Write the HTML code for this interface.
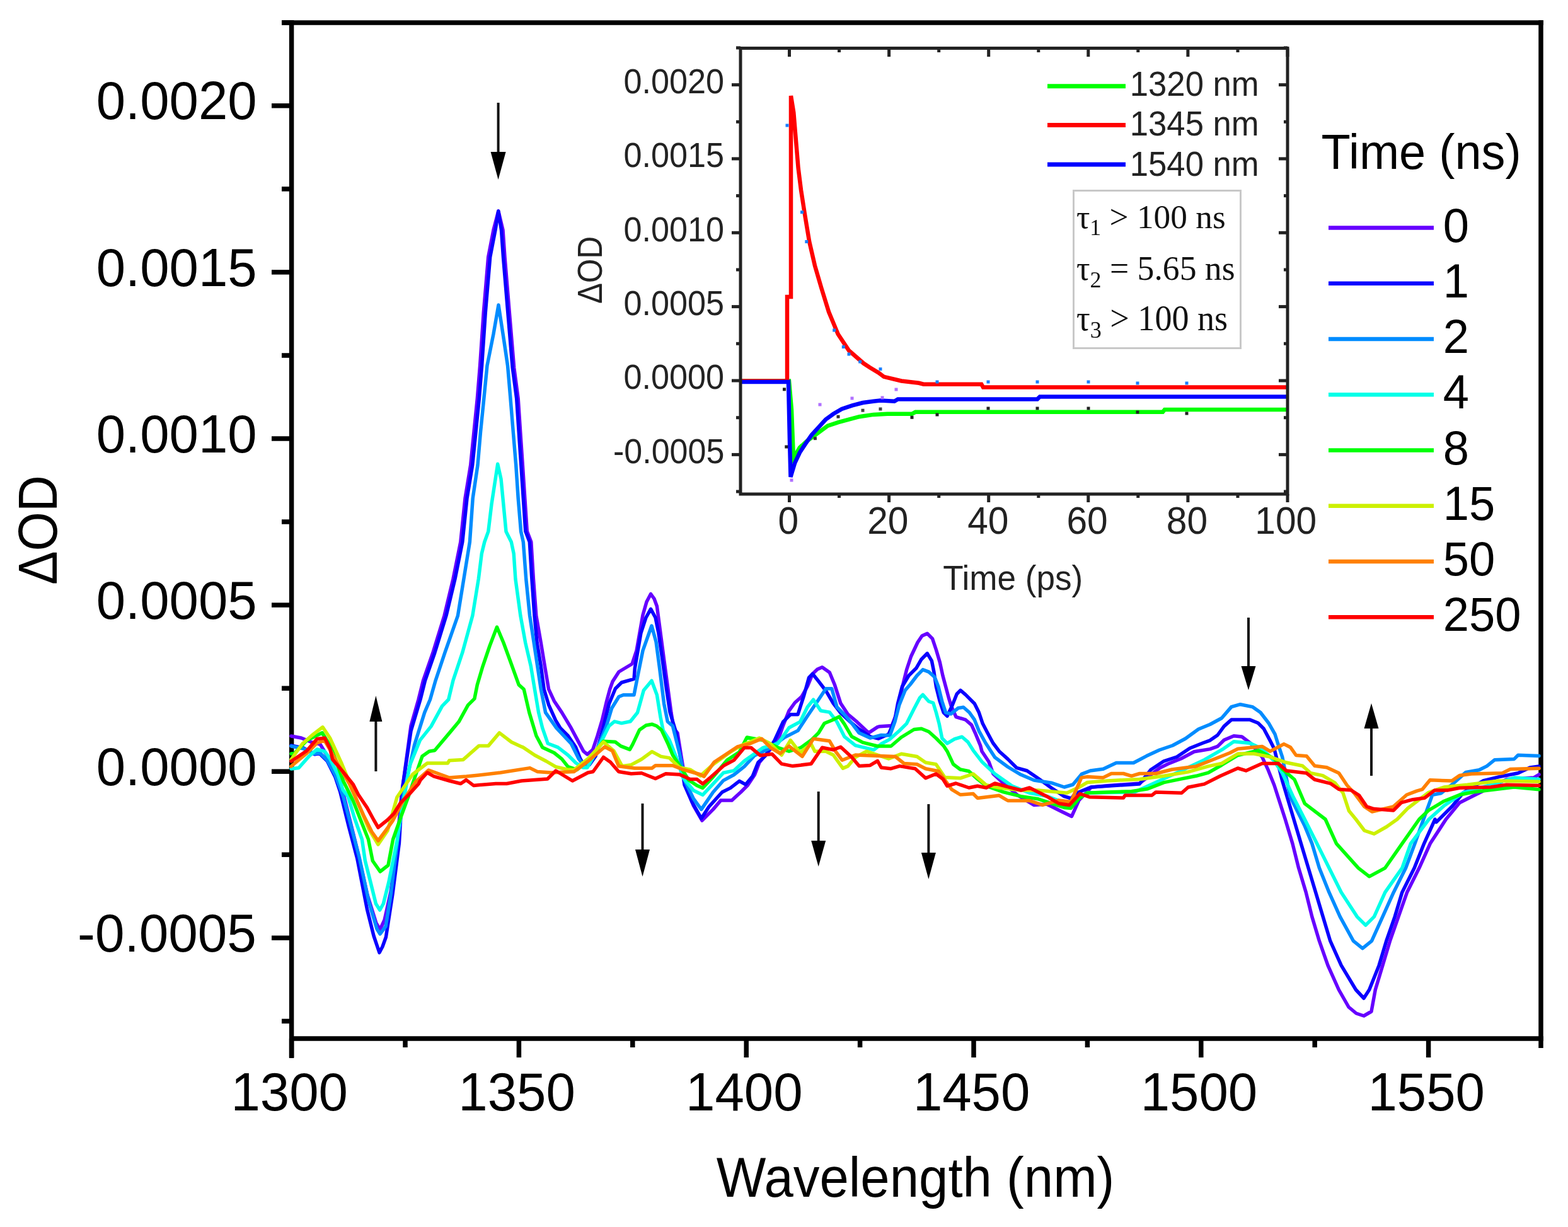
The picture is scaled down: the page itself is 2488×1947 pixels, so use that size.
<!DOCTYPE html>
<html><head><meta charset="utf-8"><title>Transient absorption spectra</title>
<style>html,body{margin:0;padding:0;background:#fff;overflow:hidden}svg{display:block}</style></head>
<body><svg xmlns="http://www.w3.org/2000/svg" width="2488" height="1947" viewBox="0 0 2488 1947">
<rect width="2488" height="1947" fill="#fff"/>
<g stroke="#000" stroke-width="7.5" fill="none">
<line x1="462.6" y1="32.0" x2="462.6" y2="1679"/>
<line x1="447" y1="36.0" x2="2449.0" y2="36.0"/>
<line x1="2445.0" y1="32.0" x2="2445.0" y2="1663"/>
<line x1="462.6" y1="1648.0" x2="2449.0" y2="1648.0"/>
<line x1="447" y1="1620.4" x2="462.6" y2="1620.4"/>
<line x1="431" y1="1488.3" x2="462.6" y2="1488.3"/>
<line x1="447" y1="1356.2" x2="462.6" y2="1356.2"/>
<line x1="431" y1="1224.2" x2="462.6" y2="1224.2"/>
<line x1="447" y1="1092.2" x2="462.6" y2="1092.2"/>
<line x1="431" y1="960.1" x2="462.6" y2="960.1"/>
<line x1="447" y1="828.0" x2="462.6" y2="828.0"/>
<line x1="431" y1="696.0" x2="462.6" y2="696.0"/>
<line x1="447" y1="564.0" x2="462.6" y2="564.0"/>
<line x1="431" y1="431.9" x2="462.6" y2="431.9"/>
<line x1="447" y1="299.9" x2="462.6" y2="299.9"/>
<line x1="431" y1="167.8" x2="462.6" y2="167.8"/>
<line x1="447" y1="35.8" x2="462.6" y2="35.8"/>
<line x1="462.6" y1="1648.0" x2="462.6" y2="1678"/>
<line x1="643.0" y1="1648.0" x2="643.0" y2="1662"/>
<line x1="823.4" y1="1648.0" x2="823.4" y2="1678"/>
<line x1="1003.8" y1="1648.0" x2="1003.8" y2="1662"/>
<line x1="1184.2" y1="1648.0" x2="1184.2" y2="1678"/>
<line x1="1364.6" y1="1648.0" x2="1364.6" y2="1662"/>
<line x1="1545.0" y1="1648.0" x2="1545.0" y2="1678"/>
<line x1="1725.4" y1="1648.0" x2="1725.4" y2="1662"/>
<line x1="1905.8" y1="1648.0" x2="1905.8" y2="1678"/>
<line x1="2086.2" y1="1648.0" x2="2086.2" y2="1662"/>
<line x1="2266.6" y1="1648.0" x2="2266.6" y2="1678"/>
</g>
<text transform="translate(152.66,189.44) scale(0.8339,0.8577)" font-family="'Liberation Sans', Arial, Helvetica, sans-serif" font-size="100" fill="#000">0.0020</text>
<text transform="translate(152.66,453.54) scale(0.8339,0.8577)" font-family="'Liberation Sans', Arial, Helvetica, sans-serif" font-size="100" fill="#000">0.0015</text>
<text transform="translate(152.66,717.64) scale(0.8339,0.8577)" font-family="'Liberation Sans', Arial, Helvetica, sans-serif" font-size="100" fill="#000">0.0010</text>
<text transform="translate(152.66,981.74) scale(0.8339,0.8577)" font-family="'Liberation Sans', Arial, Helvetica, sans-serif" font-size="100" fill="#000">0.0005</text>
<text transform="translate(152.66,1245.84) scale(0.8339,0.8577)" font-family="'Liberation Sans', Arial, Helvetica, sans-serif" font-size="100" fill="#000">0.0000</text>
<text transform="translate(123.05,1509.94) scale(0.8369,0.8577)" font-family="'Liberation Sans', Arial, Helvetica, sans-serif" font-size="100" fill="#000">-0.0005</text>
<text transform="translate(366.48,1762.24) scale(0.8338,0.8606)" font-family="'Liberation Sans', Arial, Helvetica, sans-serif" font-size="100" fill="#000">1300</text>
<text transform="translate(727.28,1762.24) scale(0.8338,0.8606)" font-family="'Liberation Sans', Arial, Helvetica, sans-serif" font-size="100" fill="#000">1350</text>
<text transform="translate(1088.08,1762.24) scale(0.8338,0.8606)" font-family="'Liberation Sans', Arial, Helvetica, sans-serif" font-size="100" fill="#000">1400</text>
<text transform="translate(1448.88,1762.24) scale(0.8338,0.8606)" font-family="'Liberation Sans', Arial, Helvetica, sans-serif" font-size="100" fill="#000">1450</text>
<text transform="translate(1809.68,1762.24) scale(0.8338,0.8606)" font-family="'Liberation Sans', Arial, Helvetica, sans-serif" font-size="100" fill="#000">1500</text>
<text transform="translate(2170.48,1762.24) scale(0.8338,0.8606)" font-family="'Liberation Sans', Arial, Helvetica, sans-serif" font-size="100" fill="#000">1550</text>
<text transform="translate(89.52,928.01) scale(0.8775,0.8024) rotate(-90)" font-family="'Liberation Sans', Arial, Helvetica, sans-serif" font-size="100" fill="#000">ΔOD</text>
<text transform="translate(1136.87,1899.16) scale(0.8335,0.8830)" font-family="'Liberation Sans', Arial, Helvetica, sans-serif" font-size="100" fill="#000">Wavelength (nm)</text>
<text transform="translate(2096.58,268.13) scale(0.7578,0.7702)" font-family="'Liberation Sans', Arial, Helvetica, sans-serif" font-size="100" fill="#000">Time (ns)</text>
<line x1="2108" y1="361.5" x2="2275" y2="361.5" stroke="#6600FF" stroke-width="6.5"/>
<text transform="translate(2289.79,383.62) scale(0.7418,0.7592)" font-family="'Liberation Sans', Arial, Helvetica, sans-serif" font-size="100" fill="#000">0</text>
<line x1="2108" y1="449.8" x2="2275" y2="449.8" stroke="#0A00FF" stroke-width="6.5"/>
<text transform="translate(2289.79,471.88) scale(0.7418,0.7592)" font-family="'Liberation Sans', Arial, Helvetica, sans-serif" font-size="100" fill="#000">1</text>
<line x1="2108" y1="538.0" x2="2275" y2="538.0" stroke="#008CFF" stroke-width="6.5"/>
<text transform="translate(2289.79,560.14) scale(0.7418,0.7592)" font-family="'Liberation Sans', Arial, Helvetica, sans-serif" font-size="100" fill="#000">2</text>
<line x1="2108" y1="626.3" x2="2275" y2="626.3" stroke="#00FFE8" stroke-width="6.5"/>
<text transform="translate(2289.79,648.40) scale(0.7418,0.7592)" font-family="'Liberation Sans', Arial, Helvetica, sans-serif" font-size="100" fill="#000">4</text>
<line x1="2108" y1="714.5" x2="2275" y2="714.5" stroke="#00FF08" stroke-width="6.5"/>
<text transform="translate(2289.79,736.66) scale(0.7418,0.7592)" font-family="'Liberation Sans', Arial, Helvetica, sans-serif" font-size="100" fill="#000">8</text>
<line x1="2108" y1="802.8" x2="2275" y2="802.8" stroke="#CCF000" stroke-width="6.5"/>
<text transform="translate(2289.79,824.92) scale(0.7418,0.7592)" font-family="'Liberation Sans', Arial, Helvetica, sans-serif" font-size="100" fill="#000">15</text>
<line x1="2108" y1="891.1" x2="2275" y2="891.1" stroke="#FF8000" stroke-width="6.5"/>
<text transform="translate(2289.79,913.18) scale(0.7418,0.7592)" font-family="'Liberation Sans', Arial, Helvetica, sans-serif" font-size="100" fill="#000">50</text>
<line x1="2108" y1="979.3" x2="2275" y2="979.3" stroke="#FF0000" stroke-width="6.5"/>
<text transform="translate(2289.79,1001.44) scale(0.7418,0.7592)" font-family="'Liberation Sans', Arial, Helvetica, sans-serif" font-size="100" fill="#000">250</text>
<g fill="none" stroke-width="5.5" stroke-linejoin="round" stroke-linecap="round">
<polyline stroke="#6600FF" points="462,1168 478,1171 495,1178 508,1181 519,1199 540,1240 566,1345 583,1420 597,1465 603,1475 610,1460 620,1415 630,1340 637,1262 652,1152 664,1110 671.5,1080 686.8,1036 705,977 719,918.6 730.8,860 738,790.7 746.7,738 752,685.4 757.3,632.7 761.6,580 767.3,495.7 774.7,408 783,365 790.8,335 798,365 801,408 808.3,495.7 815.7,583.5 822.2,632.7 825.7,685.4 829.3,738 832.8,790.7 836.3,843 842.8,860 846.4,918.6 850.8,977 858.3,1020 864.4,1056.9 870.6,1093.7 879.2,1112.2 891.5,1130.6 906.2,1155.2 916,1173.6 925.9,1192.1 932,1197 940.6,1189.6 948,1167.5 955.4,1142.9 962.7,1112.2 967.7,1093.7 972,1081.6 982,1066 1003,1053.5 1010,1032.4 1020,976 1026,955 1032.6,942.5 1038,950 1042.4,962 1048,1004.3 1053.6,1046.5 1059.3,1088.6 1065,1130.8 1069,1156 1075,1163 1081.7,1204.8 1089.4,1251 1100.4,1278.4 1113.9,1302 1131.5,1284.4 1143.6,1270.1 1161.1,1270.1 1175.4,1257 1186.4,1246 1197.4,1229.5 1205,1209.7 1216.8,1195.7 1234.4,1174.6 1242.6,1151.2 1252,1127.8 1261.3,1115 1271.9,1105.6 1281.2,1089.2 1289.4,1069.3 1297,1062 1304.6,1058.7 1316.3,1067 1324.5,1086.8 1333.9,1116.1 1345.6,1133.7 1359.7,1145.4 1378.4,1162.9 1392.4,1153.6 1395.2,1152.8 1415.1,1151.6 1423.3,1130.5 1429.2,1101.3 1433.9,1081.3 1438.6,1062.6 1445.6,1041.5 1456.1,1019.3 1463,1009 1471.3,1005.2 1479.5,1013.4 1485.4,1031 1491.3,1050.9 1495.9,1072 1500.6,1089.5 1505.3,1107.1 1508.8,1118.8 1517,1137.6 1532.2,1142.2 1541.6,1150.4 1547.5,1163.3 1555.7,1183.2 1558,1192.2 1569,1208.7 1576,1228 1592.4,1243 1615,1262 1640.5,1277.4 1661,1276 1685,1288 1700.5,1295.4 1712,1269.8 1731.3,1249.3 1757,1246.7 1808.3,1242.9 1840.3,1218.5 1853.6,1212 1874.2,1203.7 1894.8,1192.7 1920,1188.6 1932,1184.4 1942.3,1174.2 1957.7,1167.7 1970.5,1169 1985,1180 2002.6,1201.1 2011.6,1220.3 2021.9,1246 2039.3,1300 2050.9,1338.6 2060.6,1377.3 2072.2,1415.9 2081.8,1454.6 2093.4,1493.2 2107,1531.9 2124.3,1570.5 2140,1598 2152,1608 2164,1612 2176,1605 2182.3,1570.5 2193.9,1531.9 2205.5,1493.2 2219,1454.6 2232.6,1415.9 2251.9,1377.3 2269.3,1338.6 2294.4,1300 2316,1273.7 2340.8,1261.3 2365.5,1249 2390.3,1236.6 2433.6,1234.1 2442,1229"/>
<polyline stroke="#0A00FF" points="462,1183 482,1187 499,1197 507,1195.6 519.4,1207.9 531.7,1232.5 539.9,1257 553,1310 566.7,1362 582.5,1443 593,1485 602,1511.6 607,1502 612.4,1487 623,1418.6 633.4,1337.8 638.7,1250 652,1160 667,1110 674.5,1080 689.8,1036 708,977 722,918.6 733.8,860 741,790.7 749.7,738 755,685.4 760.3,632.7 764.6,580 770.3,495.7 777.7,408 786,365 790.8,335 795.5,365 798.5,408 805.8,495.7 813.2,583.5 819.7,632.7 823.2,685.4 826.8,738 830.3,790.7 833.8,843 840.3,860 843.9,918.6 848,977 852.1,1020 858.3,1056.9 863.2,1093.7 870.6,1118.3 881.6,1142.9 889,1155.2 901.3,1167.5 913.6,1185.9 921,1204.4 926,1213 935,1214 945,1200 958,1151.8 966.5,1116.7 976.4,1092.8 986.2,1083 1006,1077.4 1007.3,1060.5 1017,1004.3 1025,980 1032.6,966.4 1040,980 1045,1005 1051,1046 1057,1090 1063,1130 1073,1163 1080.6,1207 1086,1245.4 1098.2,1273 1112.8,1298.7 1125,1280 1145.8,1257 1159,1250.4 1173.2,1239.4 1183.1,1244.9 1194.1,1231.7 1203,1209.7 1214,1199.8 1229,1175 1242.6,1145.4 1254.3,1133.7 1266,1133.7 1275.4,1104.4 1283.6,1075.1 1289.4,1069.3 1298.8,1081 1310.5,1096.2 1322.2,1116.1 1333.9,1131.3 1349.1,1145.4 1363.2,1157 1380.7,1168.8 1394,1172 1410,1165 1419.8,1142.2 1424.5,1116.5 1431.5,1089.5 1442,1072 1453.8,1060.3 1462,1046.2 1471.3,1036.8 1478.4,1048.6 1481.9,1066.1 1485.4,1089.5 1491.3,1113 1497.1,1130.5 1503,1136.4 1511.2,1118.8 1518.2,1101.3 1524,1095.4 1532.2,1102.4 1546.3,1116.5 1553.3,1130.5 1559.2,1148.1 1566.2,1161.5 1575.6,1179 1585.5,1192.2 1599.3,1204.6 1613,1218.3 1629.6,1223 1647.5,1235.3 1668,1250 1688.6,1263.7 1700,1267 1705.7,1259.5 1731,1249 1808,1244 1826,1221.5 1846.7,1207.8 1867.4,1201 1888,1187.2 1908.6,1179 1920,1174.8 1932,1166.5 1942.3,1152.4 1953.9,1142.1 1983.4,1142.1 1996.2,1147.2 2005.2,1156.2 2015.4,1175.4 2021.9,1188.3 2035,1240 2052.9,1300 2064.4,1338.6 2076,1377.3 2087.6,1415.9 2099.2,1454.6 2110.8,1493.2 2128.2,1531.9 2151.4,1570.5 2164,1584 2172.7,1570.5 2188.1,1531.9 2199.7,1493.2 2213.2,1454.6 2224.8,1415.9 2244.2,1377.3 2259.6,1338.6 2277,1300 2279,1304.6 2303.7,1279.9 2322.2,1257.6 2353.2,1239 2377.9,1232.9 2408.8,1226.7 2427.4,1218 2442,1216"/>
<polyline stroke="#008CFF" points="462,1184 482,1188 499,1196 507,1194 519,1206 532,1230 545,1265 570,1360 585,1430 598,1474 603,1482 612,1470 620,1420 630,1340 640,1262 657.6,1182 673.7,1130.6 682.5,1110 691.2,1079.6 705.9,1035.7 726.4,977.1 735.9,918.6 745.4,860 750.2,790.7 758,738 762.5,685.4 767.8,632.7 773,580 783,530 791,484 799.6,540 805.5,580 810,632.7 814.3,685.4 818.7,738 822.2,790.7 826.6,843.4 830.3,860 834.7,918.6 840.6,977.1 847.2,1020 858.3,1093.7 865.6,1130.6 882.9,1155.2 906.2,1179.8 918.5,1204.4 926,1214 935,1212 945,1195 962.3,1151.8 970.7,1123.7 982,1105.5 989,1102.7 1006,1102.7 1011.5,1074.6 1020,1032.4 1034,993 1041,1018.4 1046.6,1060.5 1053.6,1116.7 1059.3,1145 1067.4,1152 1078.4,1196 1087.2,1240 1100.4,1267.4 1112.8,1284.4 1131.5,1257 1148,1238.3 1164.4,1229.5 1181,1216.3 1197.4,1198.7 1220,1188 1245,1170 1266,1159.4 1282,1135 1298.8,1110.2 1310.5,1092.7 1319.8,1092.7 1328,1122 1339.8,1133.7 1351.5,1147.7 1363.2,1163 1380.7,1171.1 1398.3,1166.4 1412,1167 1420,1145 1426.8,1118.8 1436.2,1095.4 1444.4,1086 1455,1072 1464.3,1062.6 1473.7,1066.1 1483,1074.3 1488.9,1089.5 1494.8,1113 1500.6,1130.5 1508.8,1132.9 1520.5,1123.5 1528.7,1122.3 1538.1,1130.5 1546.3,1142.2 1553.3,1159.8 1563.9,1179 1578.6,1201.8 1599.3,1217 1620,1229.3 1640.6,1238 1668,1242.2 1688.7,1249 1702.4,1245 1716.2,1228.4 1730,1223 1750.5,1220.2 1771.2,1210.5 1798.6,1210.5 1819.3,1199.6 1839.9,1190 1860.5,1183 1881,1172 1901.7,1157 1920,1149.5 1938.5,1139.5 1953.9,1121.6 1968,1117.7 1987.2,1121.6 2000,1130.5 2012.9,1147.2 2023.1,1165.2 2028.3,1181.9 2034.7,1201.1 2046.8,1263.4 2070,1310 2081.8,1338.6 2093.4,1377.3 2108.9,1415.9 2126.3,1454.6 2147.5,1493.2 2162,1504.8 2176.5,1493.2 2193.9,1454.6 2211.3,1415.9 2230.6,1377.3 2245,1338.6 2257,1305 2272.8,1261.3 2286.4,1258.8 2303.7,1245.2 2326,1225.4 2347,1221.7 2359.3,1215.6 2371.7,1205.7 2402.6,1204.4 2408.8,1198.2 2442,1199.5"/>
<polyline stroke="#00FFE8" points="462,1220 474,1218.5 490.7,1199.7 503,1189 515.3,1192.3 523.5,1203.8 535.8,1228.4 544,1253 552.3,1264 562.5,1298 574.4,1332 579.4,1366 588,1400 596.4,1434 602.7,1444 608.3,1434 616.8,1400 623.6,1366 630.4,1332 633.4,1311.5 650,1215 666.4,1174.6 684,1152.6 701.6,1120.4 711.7,1110 719,1079.6 733.7,1035.7 749.8,977.1 759.3,918.6 764.3,878.5 768.8,860 774.8,843.4 780,800 789.7,736.3 795,760 803,843.4 811.3,860 815.2,878.5 817.9,918.6 825.9,977.1 833.7,1020 842.3,1056.9 848.4,1093.7 854.6,1130.6 860.7,1155.2 869.3,1179.8 885.3,1185.9 901.3,1198.2 913.6,1210.5 925,1218 932,1218 945,1195 966.5,1151.8 975,1144.8 986.2,1147.6 1000.3,1144.8 1011.5,1130.8 1021.3,1095.6 1034,1080.2 1042.4,1102.7 1048,1137.8 1052.2,1158.9 1062,1174 1073,1201.5 1084,1234.4 1100.4,1254.2 1115,1261.4 1131.5,1243.8 1148,1226.2 1164.4,1222.9 1181,1207.5 1195.2,1197.6 1211,1186.3 1234.4,1180 1252,1154.7 1269.5,1145.4 1281.2,1122 1290.6,1110.2 1302.3,1127.8 1316.3,1130.1 1328,1145.4 1339.8,1168.8 1357.3,1182.8 1386.6,1189.8 1398.3,1180.5 1411.7,1173.2 1426.8,1159.8 1438.6,1148.1 1450.3,1124.7 1459.6,1107.1 1464.3,1102.4 1473.7,1113 1480.7,1115.3 1485.4,1130.5 1490.1,1148.1 1494.8,1171.5 1503,1179.7 1514.7,1172.7 1526.4,1169.2 1535.8,1177.4 1544.3,1190.8 1558,1208.7 1578.6,1228 1606,1247.2 1633.6,1258.2 1660,1263 1690,1274 1705,1270 1725,1258 1800,1257 1834,1241.6 1870,1225 1911,1205.7 1941,1188.3 1957.7,1176.7 1983.4,1179.3 2002.6,1188.3 2021.9,1207.5 2034.7,1226.8 2051.5,1263.4 2070.2,1300 2089.6,1338.6 2108.9,1377.3 2128.2,1415.9 2153.3,1454.6 2166.9,1468.1 2180.4,1454.6 2197.8,1415.9 2224.8,1377.3 2238.4,1338.6 2267.3,1300 2291.3,1278.6 2322.2,1257.6 2353.2,1249 2402.6,1234.1 2442,1236.6"/>
<polyline stroke="#00FF08" points="462,1196 467,1195.6 486.6,1175 511.2,1162.8 525,1185 545,1240 560,1270 571,1298 584.5,1332 591.3,1366 603.2,1383 615.9,1373 623.6,1332 635.5,1298 648,1264 656,1240 670,1200 681,1192.2 689.8,1190.7 713.3,1162.9 728,1145.3 742.6,1118.9 752.9,1108.6 757.3,1086.6 766,1057.3 777,1025 788.5,995 799,1020 810,1050 823.2,1086.6 831.2,1093.7 839.8,1130.6 850.9,1167.5 860.7,1185.9 879.2,1194.5 891.5,1204.4 901.3,1216.7 915,1221 915.6,1221.5 935,1205 957.5,1176.2 976.2,1177.3 985,1183.9 999.3,1189.4 1003.9,1181.2 1014.6,1158.3 1025,1151 1034.4,1149.2 1042,1152 1049.6,1158.3 1060.3,1181.2 1067.4,1198.2 1080.6,1218 1092.7,1237.7 1105.9,1246.5 1115,1250.4 1131.5,1232.8 1153.4,1206.4 1173.2,1193.2 1185.2,1170 1211,1174.6 1234.4,1186.3 1252,1192.2 1270.7,1186.3 1287,1174.6 1298.8,1163 1308.1,1147.7 1319.8,1143 1331.6,1137.2 1339.8,1148.9 1351.5,1168.8 1369,1178.1 1392.4,1184 1413.7,1184 1430,1170 1450.3,1157.5 1462,1156.3 1473.7,1161 1485.4,1171.5 1497.1,1183.2 1503,1192.2 1512.7,1212.8 1523.7,1221 1537.4,1223.8 1551,1236.2 1565,1247.2 1592.4,1256.8 1620,1263.7 1647.4,1267.8 1688.6,1281.5 1699.2,1282.6 1712,1267.2 1725,1258.2 1757,1257 1795.4,1255.7 1821.1,1251.8 1846.8,1241.6 1872.4,1236.4 1898,1231.3 1917.3,1226.2 1938.5,1214 1964.1,1198.5 1996.2,1190.8 2021.9,1203.7 2034.7,1220.3 2054,1237 2070.3,1275.1 2103,1300 2120.5,1338.6 2155.3,1377.3 2172.7,1390.8 2197.8,1377.3 2224.8,1338.6 2251.9,1300 2266.6,1286 2291.3,1271.2 2316,1261.3 2340.8,1256.4 2371.7,1252.7 2402.6,1249 2442,1252.7"/>
<polyline stroke="#CCF000" points="462,1205 480,1180 494.8,1167 512,1153.8 523.5,1171 542.3,1212 560,1255 585,1315 600,1340 615,1318 630,1265 654.7,1228.8 678,1211 710.4,1211 713,1206.8 735,1205.4 760,1183.4 775,1183.4 792.4,1162.9 811.5,1177.5 827.6,1184.9 830,1185.9 848.4,1198.2 866.9,1208 881.6,1216.7 900,1221 911.2,1221.5 933,1204 957.5,1177.3 974,1191.6 987.2,1215.8 1001.5,1213.6 1018,1204.8 1034.4,1192.7 1048.7,1200.4 1062,1202.6 1078.4,1218 1095,1221.2 1111.4,1231.1 1131.5,1213 1159,1193.2 1175.4,1183.3 1205,1171.1 1222.7,1180.5 1240.2,1198 1254.3,1174.6 1269.5,1194.5 1287,1180.5 1292.9,1192.2 1310.5,1192.2 1322.2,1198 1337.4,1219.1 1345.6,1215.6 1357.3,1201.6 1374.9,1192.2 1410,1204 1430.2,1196.3 1455,1200.5 1468.7,1210 1485.2,1212.8 1499,1233.4 1523.7,1234.8 1544.3,1228 1565,1245.8 1585.5,1250 1620,1254 1647.4,1254 1692.8,1258.2 1712,1249.3 1725,1241.6 1757,1239 1808.3,1236.4 1846.8,1231.3 1885.2,1224.9 1917.3,1215.9 1938.5,1211.4 1964.1,1196 1989.8,1196 2015.4,1201.1 2041,1210 2066.8,1215.2 2079.6,1226.8 2098.8,1230.6 2118,1242 2130.9,1258 2140.5,1286.8 2151.4,1300 2165,1318 2180.4,1323.2 2200,1312 2217,1300 2234.2,1282.2 2266.6,1257.6 2291.3,1249 2328.4,1245.2 2377.9,1239 2442,1240.3"/>
<polyline stroke="#FF8000" points="462,1216 486,1196 503,1179 515,1175 524,1190 536,1212 555,1245 577,1294 590,1320 600,1334 612,1318 623,1302.7 640,1270 660,1240 680,1222 713,1234 740,1232 760,1230 794,1226 840.8,1218.6 852.5,1224.4 874.5,1226 911,1224.4 933,1208 959.7,1185 971.8,1191.6 981.7,1215.8 1007,1219 1034.4,1219 1040,1214.7 1067.4,1214.7 1084,1221.2 1111.4,1229 1117,1232.2 1133.4,1209.2 1150,1198.2 1170,1185 1190,1180 1208.6,1172.3 1222.7,1186.3 1237.9,1195.7 1252,1184 1273,1200.4 1290.6,1172.3 1316.3,1175.8 1325.7,1192.2 1336.2,1206.2 1357.3,1198 1420.6,1200.5 1434.4,1211.5 1455,1212.8 1468.7,1219.7 1489.3,1223.8 1510,1252.7 1523.7,1261 1544.3,1259.6 1551,1266.4 1585.5,1262.3 1599.3,1270.5 1633.6,1270.5 1654.2,1277.4 1680,1270 1699.2,1272.4 1716,1233.9 1725,1232.6 1750.5,1233.9 1763.4,1227.5 1782.6,1227.5 1795.4,1231.3 1808.3,1227.5 1834,1227.5 1859.6,1221 1898,1215.9 1923.7,1205.7 1951.3,1194.7 1964.1,1188.3 2002.6,1184.4 2015.4,1192.1 2037.2,1180.6 2047.5,1185.7 2056.5,1198.5 2073.2,1199.8 2086,1215.2 2105.2,1217.8 2124.5,1226.8 2137.3,1246 2150,1260 2165,1280 2177,1288 2211,1279.9 2232,1261.3 2248,1255.1 2256.7,1252.7 2269,1237.8 2303.7,1239 2316,1230.4 2334.6,1228 2384,1226.7 2396.5,1220.5 2442,1219.3"/>
<polyline stroke="#FF0000" points="462,1208 486.6,1191.5 503,1172.6 515.3,1171 523.5,1187.4 527.6,1205 544,1224.3 560.4,1244.8 568.6,1261 582.5,1281.6 593,1301 600,1313 615,1301 625,1291 635.5,1274 649,1260.6 664,1244 667,1238 678,1226 688.4,1231.8 713,1239 731,1243.5 739.7,1237.6 751.4,1246.4 786.6,1243.5 804,1243.5 827.6,1239 868.7,1236 881.9,1223 908.3,1239 933,1226 941,1224.5 957.5,1201.5 968.5,1209.2 981.7,1224.5 1001.5,1227.8 1018,1226.7 1040,1235.5 1056.4,1227.8 1078.4,1229 1095,1236.6 1106,1236.6 1115,1243.8 1128.2,1232.8 1148,1215.2 1164.4,1206.4 1181,1186.6 1192,1186.6 1206.2,1198.7 1225,1196.5 1240.2,1212.1 1257.8,1215.6 1287,1212.1 1304.6,1186.3 1322.2,1189.8 1333.9,1185.2 1351.5,1201.6 1363.2,1215.6 1380.7,1214.4 1392.4,1207.4 1398.3,1218 1413.7,1219.7 1427.5,1215.6 1452.2,1219.7 1468.7,1234.8 1485.2,1228 1496.2,1236.2 1503,1247.2 1516.8,1243 1537.4,1250 1551,1247.2 1565,1250 1578.6,1243 1599.3,1248.6 1620,1254 1633.6,1250 1661,1263.7 1680,1275 1696.7,1277.5 1713.4,1259.5 1728.7,1264.7 1782.6,1266 1785.2,1262.1 1827.5,1262.1 1834,1257 1875,1258.2 1885.2,1249.3 1911,1244.1 1936.5,1231.3 1964.1,1219 1977,1222.9 2002.6,1211.4 2028.3,1211.4 2041,1222.9 2073.2,1226.8 2086,1237 2111.6,1243.4 2124.5,1252.4 2143.7,1253.7 2156.5,1262 2168.6,1279.8 2180,1283.6 2199,1285 2211,1286 2223.3,1273.7 2241.8,1268.7 2260.4,1266.3 2276.5,1253.9 2297.5,1253.9 2316,1250.2 2365.5,1249 2390.3,1245.2 2442,1246.5"/>
</g>
<line x1="790.6" y1="163" x2="790.6" y2="243" stroke="#111" stroke-width="4"/>
<polygon points="778.6,241 802.6,241 790.6,285" fill="#000"/>
<line x1="596.4" y1="1224" x2="596.4" y2="1143" stroke="#111" stroke-width="4"/>
<polygon points="586.4,1145 606.4,1145 596.4,1104" fill="#000"/>
<line x1="1019.5" y1="1275" x2="1019.5" y2="1350" stroke="#111" stroke-width="4"/>
<polygon points="1008.0,1348 1031.0,1348 1019.5,1391" fill="#000"/>
<line x1="1298.7" y1="1256" x2="1298.7" y2="1336" stroke="#111" stroke-width="4"/>
<polygon points="1287.2,1334 1310.2,1334 1298.7,1375" fill="#000"/>
<line x1="1473.4" y1="1276" x2="1473.4" y2="1355" stroke="#111" stroke-width="4"/>
<polygon points="1461.9,1353 1484.9,1353 1473.4,1395" fill="#000"/>
<line x1="1981" y1="980" x2="1981" y2="1059" stroke="#111" stroke-width="4"/>
<polygon points="1969.5,1057 1992.5,1057 1981,1095" fill="#000"/>
<line x1="2176" y1="1231" x2="2176" y2="1154" stroke="#111" stroke-width="4"/>
<polygon points="2164.5,1156 2187.5,1156 2176,1116" fill="#000"/>
<rect x="1175.0" y="76.5" width="868.0" height="707.5" fill="#fff" stroke="none"/>
<g fill="none" stroke-width="6.5" stroke-linejoin="miter" stroke-linecap="butt">
<polyline stroke="#00FF00" points="1175,604.5 1252,604.5 1256,650 1259,726.9 1269,710.2 1280,700.2 1296.8,687.9 1313.4,675.7 1330.1,670.1 1346.8,665.7 1363.5,661.2 1385.8,657.9 1408,656.8 1447,656.8 1452.5,653.8 1845,653.8 1848,650 2043,650"/>
<polyline stroke="#FF0000" points="1175,604.5 1249,604.5 1249,471 1255,471 1255,152 1259.3,178.6 1262.2,213.7 1266.6,266.4 1271,301.5 1276.9,339.6 1284.2,383.5 1293,421.6 1303.2,456.7 1315,494.8 1329.6,530 1347,556.3 1370.6,576.8 1380,583 1394,591.4 1402.5,597.8 1430.3,604.5 1458,607.8 1465.4,609.7 1557.3,609.7 1560,614.5 2043,614.5"/>
<polyline stroke="#0000FF" points="1175,606 1251,606 1253,700 1254.5,756.9 1261.2,734.6 1269,718 1277.8,704.6 1287.9,690.1 1299,677.9 1310.1,665.7 1322.4,656.8 1335.7,649 1352.4,643.4 1369.1,639 1385.8,636.7 1396.9,635.6 1419.2,636.7 1424.7,633.4 1646,633.4 1650,629.4 2043,629.4"/>
</g>
<rect x="1246.5" y="196.5" width="5" height="5" fill="#1a7fff"/>
<rect x="1270.0" y="334.2" width="5" height="5" fill="#1a7fff"/>
<rect x="1277.3" y="381.0" width="5" height="5" fill="#1a7fff"/>
<rect x="1321.2" y="521.5" width="5" height="5" fill="#1a7fff"/>
<rect x="1335.8" y="548.0" width="5" height="5" fill="#1a7fff"/>
<rect x="1344.5" y="559.5" width="5" height="5" fill="#1a7fff"/>
<rect x="1362.2" y="571.5" width="5" height="5" fill="#1a7fff"/>
<rect x="1394.5" y="583.1" width="5" height="5" fill="#1a7fff"/>
<rect x="1484.5" y="603.5" width="5" height="5" fill="#1a7fff"/>
<rect x="1565.5" y="603.5" width="5" height="5" fill="#1a7fff"/>
<rect x="1643.5" y="603.5" width="5" height="5" fill="#1a7fff"/>
<rect x="1724.5" y="603.5" width="5" height="5" fill="#1a7fff"/>
<rect x="1802.5" y="605.5" width="5" height="5" fill="#1a7fff"/>
<rect x="1880.5" y="605.5" width="5" height="5" fill="#1a7fff"/>
<rect x="1242.0" y="615.3" width="5" height="5" fill="#222"/>
<rect x="1245.3" y="706.5" width="5" height="5" fill="#222"/>
<rect x="1290.9" y="693.2" width="5" height="5" fill="#333"/>
<rect x="1327.5" y="658.7" width="5" height="5" fill="#333"/>
<rect x="1366.5" y="648.7" width="5" height="5" fill="#444"/>
<rect x="1394.5" y="646.5" width="5" height="5" fill="#444"/>
<rect x="1444.5" y="659.8" width="5" height="5" fill="#222"/>
<rect x="1484.5" y="655.5" width="5" height="5" fill="#222"/>
<rect x="1565.5" y="645.5" width="5" height="5" fill="#222"/>
<rect x="1643.5" y="645.5" width="5" height="5" fill="#222"/>
<rect x="1724.5" y="645.5" width="5" height="5" fill="#222"/>
<rect x="1802.5" y="651.5" width="5" height="5" fill="#222"/>
<rect x="1880.5" y="653.5" width="5" height="5" fill="#222"/>
<rect x="1253.5" y="759.5" width="5" height="5" fill="#b070ff"/>
<rect x="1298.5" y="639.5" width="5" height="5" fill="#b070ff"/>
<rect x="1349.5" y="629.5" width="5" height="5" fill="#b070ff"/>
<rect x="1397.5" y="628.5" width="5" height="5" fill="#b070ff"/>
<rect x="1419.5" y="615.5" width="5" height="5" fill="#b070ff"/>
<g stroke="#222" stroke-width="5" fill="none">
<rect x="1175.0" y="76.5" width="868.0" height="707.5"/>
<line x1="1168" y1="780.0" x2="1175.0" y2="780.0"/>
<line x1="2043.0" y1="780.0" x2="2037" y2="780.0"/>
<line x1="1161" y1="721.4" x2="1175.0" y2="721.4"/>
<line x1="2043.0" y1="721.4" x2="2029" y2="721.4"/>
<line x1="1168" y1="662.7" x2="1175.0" y2="662.7"/>
<line x1="2043.0" y1="662.7" x2="2037" y2="662.7"/>
<line x1="1161" y1="604.0" x2="1175.0" y2="604.0"/>
<line x1="2043.0" y1="604.0" x2="2029" y2="604.0"/>
<line x1="1168" y1="545.3" x2="1175.0" y2="545.3"/>
<line x1="2043.0" y1="545.3" x2="2037" y2="545.3"/>
<line x1="1161" y1="486.6" x2="1175.0" y2="486.6"/>
<line x1="2043.0" y1="486.6" x2="2029" y2="486.6"/>
<line x1="1168" y1="428.0" x2="1175.0" y2="428.0"/>
<line x1="2043.0" y1="428.0" x2="2037" y2="428.0"/>
<line x1="1161" y1="369.3" x2="1175.0" y2="369.3"/>
<line x1="2043.0" y1="369.3" x2="2029" y2="369.3"/>
<line x1="1168" y1="310.6" x2="1175.0" y2="310.6"/>
<line x1="2043.0" y1="310.6" x2="2037" y2="310.6"/>
<line x1="1161" y1="251.9" x2="1175.0" y2="251.9"/>
<line x1="2043.0" y1="251.9" x2="2029" y2="251.9"/>
<line x1="1168" y1="193.3" x2="1175.0" y2="193.3"/>
<line x1="2043.0" y1="193.3" x2="2037" y2="193.3"/>
<line x1="1161" y1="134.6" x2="1175.0" y2="134.6"/>
<line x1="2043.0" y1="134.6" x2="2029" y2="134.6"/>
<line x1="1168" y1="75.9" x2="1175.0" y2="75.9"/>
<line x1="2043.0" y1="75.9" x2="2037" y2="75.9"/>
<line x1="1252.5" y1="784.0" x2="1252.5" y2="797"/>
<line x1="1252.5" y1="76.5" x2="1252.5" y2="90"/>
<line x1="1331.5" y1="784.0" x2="1331.5" y2="790"/>
<line x1="1331.5" y1="76.5" x2="1331.5" y2="83"/>
<line x1="1410.6" y1="784.0" x2="1410.6" y2="797"/>
<line x1="1410.6" y1="76.5" x2="1410.6" y2="90"/>
<line x1="1489.7" y1="784.0" x2="1489.7" y2="790"/>
<line x1="1489.7" y1="76.5" x2="1489.7" y2="83"/>
<line x1="1568.7" y1="784.0" x2="1568.7" y2="797"/>
<line x1="1568.7" y1="76.5" x2="1568.7" y2="90"/>
<line x1="1647.8" y1="784.0" x2="1647.8" y2="790"/>
<line x1="1647.8" y1="76.5" x2="1647.8" y2="83"/>
<line x1="1726.8" y1="784.0" x2="1726.8" y2="797"/>
<line x1="1726.8" y1="76.5" x2="1726.8" y2="90"/>
<line x1="1805.8" y1="784.0" x2="1805.8" y2="790"/>
<line x1="1805.8" y1="76.5" x2="1805.8" y2="83"/>
<line x1="1884.9" y1="784.0" x2="1884.9" y2="797"/>
<line x1="1884.9" y1="76.5" x2="1884.9" y2="90"/>
<line x1="1964.0" y1="784.0" x2="1964.0" y2="790"/>
<line x1="1964.0" y1="76.5" x2="1964.0" y2="83"/>
<line x1="2043.0" y1="784.0" x2="2043.0" y2="797"/>
<line x1="2043.0" y1="76.5" x2="2043.0" y2="90"/>
</g>
<text transform="translate(989.51,148.05) scale(0.5221,0.5549)" font-family="'Liberation Sans', Arial, Helvetica, sans-serif" font-size="100" fill="#222">0.0020</text>
<text transform="translate(989.51,265.40) scale(0.5221,0.5549)" font-family="'Liberation Sans', Arial, Helvetica, sans-serif" font-size="100" fill="#222">0.0015</text>
<text transform="translate(989.51,382.75) scale(0.5221,0.5549)" font-family="'Liberation Sans', Arial, Helvetica, sans-serif" font-size="100" fill="#222">0.0010</text>
<text transform="translate(989.51,500.10) scale(0.5221,0.5549)" font-family="'Liberation Sans', Arial, Helvetica, sans-serif" font-size="100" fill="#222">0.0005</text>
<text transform="translate(989.51,617.45) scale(0.5221,0.5549)" font-family="'Liberation Sans', Arial, Helvetica, sans-serif" font-size="100" fill="#222">0.0000</text>
<text transform="translate(973.02,734.80) scale(0.5199,0.5549)" font-family="'Liberation Sans', Arial, Helvetica, sans-serif" font-size="100" fill="#222">-0.0005</text>
<text transform="translate(1234.56,846.60) scale(0.5873,0.6042)" font-family="'Liberation Sans', Arial, Helvetica, sans-serif" font-size="100" fill="#222">0</text>
<text transform="translate(1376.21,846.60) scale(0.5873,0.6042)" font-family="'Liberation Sans', Arial, Helvetica, sans-serif" font-size="100" fill="#222">20</text>
<text transform="translate(1535.19,846.60) scale(0.5873,0.6042)" font-family="'Liberation Sans', Arial, Helvetica, sans-serif" font-size="100" fill="#222">40</text>
<text transform="translate(1692.41,846.60) scale(0.5873,0.6042)" font-family="'Liberation Sans', Arial, Helvetica, sans-serif" font-size="100" fill="#222">60</text>
<text transform="translate(1850.81,846.60) scale(0.5873,0.6042)" font-family="'Liberation Sans', Arial, Helvetica, sans-serif" font-size="100" fill="#222">80</text>
<text transform="translate(1991.29,846.60) scale(0.5873,0.6042)" font-family="'Liberation Sans', Arial, Helvetica, sans-serif" font-size="100" fill="#222">100</text>
<text transform="translate(1496.14,936.03) scale(0.5307,0.5511)" font-family="'Liberation Sans', Arial, Helvetica, sans-serif" font-size="100" fill="#222">Time (ps)</text>
<text transform="translate(955.14,481.98) scale(0.5592,0.4943) rotate(-90)" font-family="'Liberation Sans', Arial, Helvetica, sans-serif" font-size="100" fill="#222">ΔOD</text>
<line x1="1662" y1="136.7" x2="1786" y2="136.7" stroke="#00FF00" stroke-width="7"/>
<text transform="translate(1792.79,152.25) scale(0.5267,0.5493)" font-family="'Liberation Sans', Arial, Helvetica, sans-serif" font-size="100" fill="#222">1320 nm</text>
<line x1="1662" y1="198.6" x2="1786" y2="198.6" stroke="#FF0000" stroke-width="7"/>
<text transform="translate(1792.79,215.14) scale(0.5267,0.5634)" font-family="'Liberation Sans', Arial, Helvetica, sans-serif" font-size="100" fill="#222">1345 nm</text>
<line x1="1662" y1="261.0" x2="1786" y2="261.0" stroke="#0000FF" stroke-width="7"/>
<text transform="translate(1792.79,279.35) scale(0.5267,0.5479)" font-family="'Liberation Sans', Arial, Helvetica, sans-serif" font-size="100" fill="#222">1540 nm</text>
<rect x="1703.5" y="302.5" width="265" height="250" fill="none" stroke="#c8c8c8" stroke-width="3"/>
<text transform="translate(1707.93,361.68) scale(0.5333,0.5193)" font-family="'Liberation Serif', 'Times New Roman', serif" font-size="100" fill="#111">τ<tspan font-size="67" dy="22">1</tspan><tspan dy="-22"> &gt; 100 ns</tspan></text>
<text transform="translate(1707.93,443.61) scale(0.5367,0.5448)" font-family="'Liberation Serif', 'Times New Roman', serif" font-size="100" fill="#111">τ<tspan font-size="67" dy="22">2</tspan><tspan dy="-22"> = 5.65 ns</tspan></text>
<text transform="translate(1707.92,523.67) scale(0.5411,0.5784)" font-family="'Liberation Serif', 'Times New Roman', serif" font-size="100" fill="#111">τ<tspan font-size="67" dy="22">3</tspan><tspan dy="-22"> &gt; 100 ns</tspan></text>
</svg></body></html>
